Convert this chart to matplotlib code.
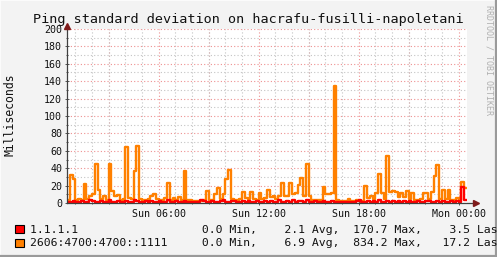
"""
RRDtool-style ping standard deviation graph, redrawn with matplotlib.
"""

import numpy as np
import matplotlib

matplotlib.use("Agg")
import matplotlib.pyplot as plt
from matplotlib.lines import Line2D
from matplotlib.patches import Rectangle


TITLE = "Ping standard deviation on hacrafu-fusilli-napoletani"
YLABEL = "Milliseconds"
WATERMARK = "RRDTOOL / TOBI OETIKER"

# samples every 10 minutes, starting Sun 00:30 (hours since Sun 00:00)
START_HOUR = 0.5
STEP_HOURS = 1 / 6

hosts = ["1.1.1.1", "2606:4700:4700::1111"]

stddev_v4 = [
    1.5, 1.5, 2.0, 1.5, 1.5, 2.5, 1.5, 1.5, 3.0, 2.0,
    1.5, 1.5, 2.0, 1.5, 1.5, 3.5, 1.5, 1.5, 2.0, 1.5,
    1.5, 2.0, 1.5, 1.5, 3.0, 2.5, 1.5, 1.5, 2.0, 1.5,
    2.5, 1.5, 1.5, 2.0, 1.5, 1.5, 3.0, 1.5, 1.5, 2.0,
    1.5, 1.5, 2.5, 1.5, 1.5, 1.5, 1.5, 1.5, 4.0, 2.0,
    1.5, 1.5, 2.5, 1.5, 1.5, 2.0, 3.0, 1.5, 1.5, 2.0,
    2.5, 1.5, 1.5, 2.0, 1.5, 2.5, 1.5, 1.5, 2.0, 1.5,
    1.5, 2.5, 1.5, 2.0, 1.5, 1.5, 3.0, 1.5, 1.5, 2.0,
    1.5, 3.0, 1.5, 2.0, 2.5, 1.5, 3.0, 1.5, 1.5, 2.0,
    1.5, 1.5, 2.0, 1.5, 1.5, 2.5, 1.5, 1.5, 1.5, 1.5,
    1.5, 1.5, 1.5, 1.5, 2.0, 3.5, 1.5, 1.5, 2.0, 1.5,
    2.5, 1.5, 3.0, 1.5, 1.5, 2.0, 1.5, 2.5, 1.5, 2.0,
    1.5, 2.5, 1.5, 2.0, 1.5, 1.5, 2.0, 1.5, 1.5, 2.5,
    2.0, 1.5, 1.5, 2.5, 1.5, 2.0, 1.5, 1.5, 2.0, 1.5,
    2.0, 1.5, 18.0, 3.5,
]

stddev_v6 = [
    4, 32, 28, 3, 5, 4, 22, 5, 8, 10,
    45, 15, 5, 8, 3, 45, 14, 8, 9, 4,
    5, 64, 6, 5, 37, 65, 5, 4, 3, 5,
    8, 10, 5, 3, 4, 6, 23, 4, 6, 4,
    7, 3, 37, 4, 3, 2, 2, 2, 2, 3,
    14, 3, 4, 10, 17, 5, 10, 28, 38, 5,
    4, 3, 5, 13, 6, 5, 13, 5, 4, 11,
    5, 6, 15, 7, 8, 5, 8, 23, 8, 8,
    23, 10, 11, 21, 29, 8, 45, 8, 4, 3,
    4, 4, 18, 10, 10, 11, 134, 3, 2, 2,
    2, 5, 2, 2, 3, 2, 2, 20, 6, 8,
    5, 11, 33, 11, 5, 54, 13, 14, 13, 7,
    12, 7, 14, 5, 12, 4, 3, 5, 12, 12,
    5, 13, 31, 44, 5, 15, 5, 15, 4, 3,
    6, 3, 24, 17,
]

summary_min = [0.0, 0.0]
summary_avg = [2.1, 6.9]
summary_max = [170.7, 834.2]
summary_last = [3.5, 17.2]

xtick_hours = [6, 12, 18, 24]
xtick_labels = ["Sun 06:00", "Sun 12:00", "Sun 18:00", "Mon 00:00"]

COLORS = ["#FF0000", "#FF8000"]
W, H = 497, 257
MONO = "DejaVu Sans Mono"


def fx(px):
    return px / W


def fy(py):
    return 1 - py / H


def main() -> None:
    plt.rcParams.update({"font.family": MONO})
    fig = plt.figure(figsize=(W / 100, H / 100), dpi=100, facecolor="#F3F3F3")

    # 3d-ish frame like rrdtool
    fig.add_artist(Rectangle((0, 0), 1, 1, transform=fig.transFigure,
                             fill=False, edgecolor="#FCFCFC", linewidth=1.4))
    fig.add_artist(Line2D([fx(1), 1], [fy(H - 1), fy(H - 1)], color="#9A9A9A", lw=1.6))
    fig.add_artist(Line2D([fx(W - 1), fx(W - 1)], [0, 1], color="#9A9A9A", lw=1.6))

    ax = fig.add_axes([fx(67), fy(203), fx(400), 174 / H])
    ax.set_facecolor("white")

    n = len(stddev_v6)
    t = START_HOUR + STEP_HOURS * np.arange(n + 1)
    series = [stddev_v4, stddev_v6]
    for vals, color, z in zip(series, COLORS, [4, 3]):
        ax.step(t, np.append(vals, vals[-1]), where="post",
                color=color, linewidth=1.7, zorder=z, clip_on=True)

    ax.set_xlim(START_HOUR, START_HOUR + STEP_HOURS * n)
    ax.set_ylim(0, 200)

    ax.set_yticks(range(0, 201, 20))
    ax.set_yticks(range(10, 200, 20), minor=True)
    ax.set_xticks(xtick_hours)
    ax.set_xticklabels(xtick_labels)
    ax.set_xticks(np.arange(1, 25, 1), minor=True)

    dotted = (0, (1, 2))
    ax.grid(which="minor", color="#C4C4C4", linestyle=dotted, linewidth=0.8)
    ax.grid(which="major", axis="y", color="#EE9090", linestyle=dotted, linewidth=0.8)
    for h in np.arange(3, 25, 3):
        ax.axvline(h, color="#EE9090", linestyle=dotted, linewidth=0.8, zorder=0.5)
    ax.set_axisbelow(True)

    ax.tick_params(which="both", direction="inout", color="#555555", width=0.7,
                   labelsize=7.2, labelcolor="#111111")
    ax.tick_params(which="major", length=3)
    ax.tick_params(which="minor", length=2)
    ax.tick_params(axis="y", pad=2)
    ax.tick_params(axis="x", pad=3)

    for s in ax.spines.values():
        s.set_visible(False)
    ax.plot([0, 1.02], [0, 0], transform=ax.transAxes, color="#404040",
            lw=0.9, clip_on=False, zorder=5)
    ax.plot([0, 0], [0, 1.015], transform=ax.transAxes, color="#404040",
            lw=0.9, clip_on=False, zorder=5)
    ax.plot([1.022], [0], marker=">", markersize=4, color="#7F1A1A",
            transform=ax.transAxes, clip_on=False, zorder=6)
    ax.plot([0], [1.015], marker="^", markersize=4, color="#7F1A1A",
            transform=ax.transAxes, clip_on=False, zorder=6)

    fig.text(fx(248), fy(23), TITLE, ha="center", va="baseline", fontsize=9.7,
             color="#111111")
    fig.text(fx(10.5), fy(115), YLABEL, rotation=90, ha="center", va="center",
             fontsize=8.3, color="#111111")
    fig.text(fx(489), fy(60), WATERMARK, rotation=270, ha="center", va="center",
             fontsize=6.0, color="#B0B0B0")

    for i, host in enumerate(hosts):
        top = 225 + i * 13.5
        fig.add_artist(Rectangle((fx(15), fy(top + 8)), fx(8.5), 8 / H,
                                 transform=fig.transFigure, facecolor=COLORS[i],
                                 edgecolor="black", linewidth=0.8))
        row = (f"{host:<20}{summary_min[i]:>8.1f} Min,{summary_avg[i]:>7.1f} Avg,"
               f"{summary_max[i]:>7.1f} Max,{summary_last[i]:>7.1f} Last")
        fig.text(fx(30), fy(top + 8), row, ha="left", va="baseline",
                 fontsize=8.25, color="#111111")

    fig.savefig("out.png", dpi=100, facecolor=fig.get_facecolor())
    plt.close(fig)


if __name__ == "__main__":
    main()
